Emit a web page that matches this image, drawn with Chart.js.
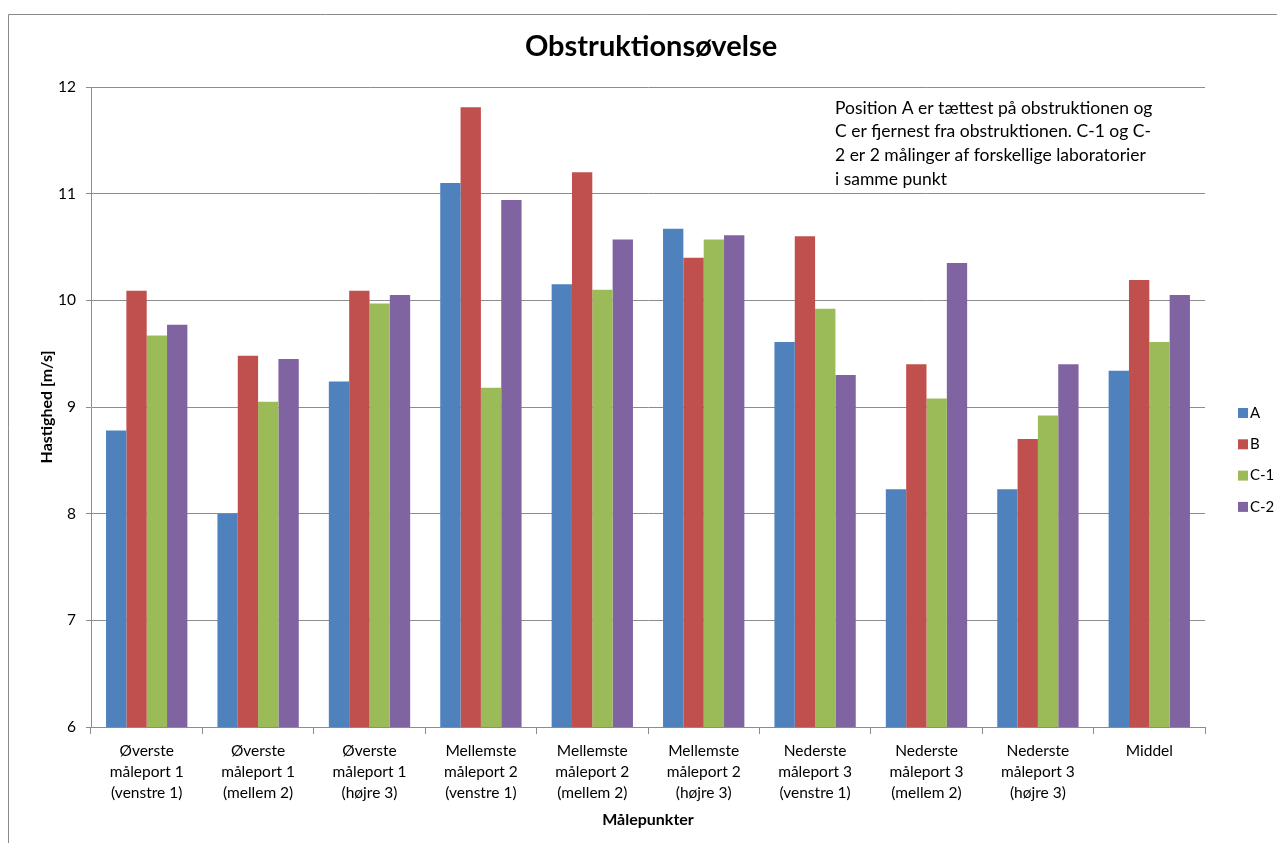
<!DOCTYPE html>
<html>
<head>
<meta charset="utf-8">
<script src="https://cdn.jsdelivr.net/npm/chart.js@4/dist/chart.umd.min.js"></script>
<style>
  body { margin: 0; background: #fff; }
  canvas { display: block; }
</style>
</head>
<body>
<canvas id="chart" width="1277" height="843"></canvas>
<script>
const categories = [
    ['Øverste', 'måleport 1', '(venstre 1)'],
    ['Øverste', 'måleport 1', '(mellem 2)'],
    ['Øverste', 'måleport 1', '(højre 3)'],
    ['Mellemste', 'måleport 2', '(venstre 1)'],
    ['Mellemste', 'måleport 2', '(mellem 2)'],
    ['Mellemste', 'måleport 2', '(højre 3)'],
    ['Nederste', 'måleport 3', '(venstre 1)'],
    ['Nederste', 'måleport 3', '(mellem 2)'],
    ['Nederste', 'måleport 3', '(højre 3)'],
    ['Middel']
];
const seriesA  = [8.78, 8.00, 9.24, 11.10, 10.15, 10.67, 9.61, 8.23, 8.23, 9.34];
const seriesB  = [10.09, 9.48, 10.09, 11.81, 11.20, 10.40, 10.60, 9.40, 8.70, 10.19];
const seriesC1 = [9.67, 9.05, 9.97, 9.18, 10.10, 10.57, 9.92, 9.08, 8.92, 9.61];
const seriesC2 = [9.77, 9.45, 10.05, 10.94, 10.57, 10.61, 9.30, 10.35, 9.40, 10.05];
const yMin = 6, yMax = 12, yStep = 1;

const chartTitle = 'Obstruktionsøvelse';
const noteLines = [
    'Position A er tættest på obstruktionen og',
    'C er fjernest fra obstruktionen. C-1 og C-',
    '2 er 2 målinger af forskellige laboratorier',
    'i samme punkt'
];

const FONT = 'Lato, "Open Sans", sans-serif';
const gridGrey = '#8c8c8c';

// border, title, note and legend drawn on top of the chart
const extras = {
    id: 'extras',
    afterDraw(chart) {
        const ctx = chart.ctx;
        ctx.save();
        ctx.strokeStyle = '#8a8a8a';
        ctx.lineWidth = 1;
        ctx.beginPath();
        ctx.moveTo(8.5, 843);
        ctx.lineTo(8.5, 14.5);
        ctx.lineTo(1277, 14.5);
        ctx.stroke();

        ctx.fillStyle = '#000';
        ctx.textAlign = 'center';
        ctx.textBaseline = 'middle';
        ctx.font = 'bold 29px ' + FONT;
        ctx.fillText(chartTitle, 651, 47);

        ctx.textAlign = 'left';
        ctx.font = '17.5px ' + FONT;
        noteLines.forEach((t, i) => ctx.fillText(t, 835, 108 + i * 23.7));

        ctx.font = '15px ' + FONT;
        chart.data.datasets.forEach((ds, i) => {
            const y = 413 + i * 31.3;
            ctx.fillStyle = ds.backgroundColor;
            ctx.fillRect(1238, y - 5, 10, 10);
            ctx.fillStyle = '#000';
            ctx.fillText(ds.label, 1250, y);
        });
        ctx.restore();
    }
};

new Chart(document.getElementById('chart'), {
    type: 'bar',
    data: {
        labels: categories,
        datasets: [
            { label: 'A', data: seriesA, backgroundColor: '#4f81bd' },
            { label: 'B', data: seriesB, backgroundColor: '#c0504d' },
            { label: 'C-1', data: seriesC1, backgroundColor: '#9bbb59' },
            { label: 'C-2', data: seriesC2, backgroundColor: '#8064a2' }
        ]
    },
    options: {
        responsive: false,
        animation: false,
        layout: { padding: { top: 87, right: 72, left: 0, bottom: 0 } },
        datasets: { bar: { barPercentage: 1, categoryPercentage: 0.73 } },
        plugins: {
            legend: { display: false },
            title: { display: false },
            tooltip: { enabled: false }
        },
        scales: {
            x: {
                afterFit(scale) { scale.height = 116; },
                grid: { drawOnChartArea: false, drawTicks: true, tickLength: 7, color: gridGrey, offset: true },
                border: { color: gridGrey },
                ticks: {
                    color: '#000',
                    font: { family: FONT, size: 15.5, lineHeight: 1.36 },
                    padding: 6,
                    maxRotation: 0,
                    autoSkip: false
                },
                title: {
                    display: true,
                    text: 'Målepunkter',
                    color: '#000',
                    font: { family: FONT, size: 16, weight: 'bold' },
                    padding: { bottom: 13.4, top: 0 }
                }
            },
            y: {
                min: yMin,
                max: yMax,
                afterFit(scale) { scale.width = 91; },
                grid: { color: gridGrey, tickLength: 5 },
                border: { color: gridGrey },
                ticks: {
                    stepSize: yStep,
                    color: '#000',
                    font: { family: FONT, size: 15.5 },
                    padding: 10
                },
                title: {
                    display: true,
                    text: 'Hastighed [m/s]',
                    color: '#000',
                    font: { family: FONT, size: 16, weight: 'bold' },
                    padding: { top: 37.4, bottom: 0 }
                }
            }
        }
    },
    plugins: [extras]
});
</script>
</body>
</html>
